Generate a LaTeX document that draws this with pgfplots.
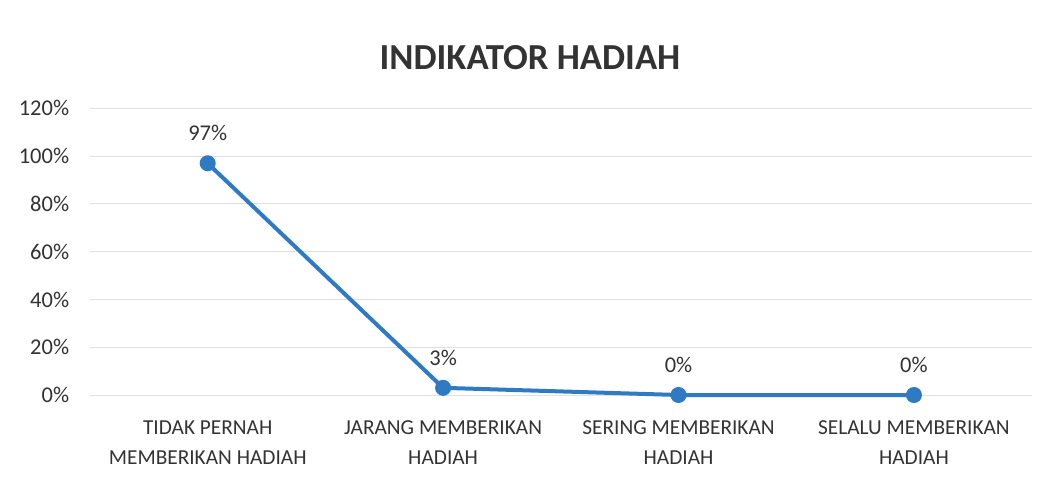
\documentclass[border=0pt]{standalone}
\usepackage{fontspec}
\setmainfont{Carlito}
\usepackage{pgfplots}
\pgfplotsset{compat=1.18}
\definecolor{linecol}{HTML}{2E7BC4}
\definecolor{txt}{HTML}{333333}
\definecolor{gridc}{HTML}{E0E0E0}
\begin{document}
\begin{tikzpicture}
\path (0,0) rectangle (630pt,289.8pt);
\begin{axis}[
  at={(54pt,52.8pt)}, anchor=south west,
  scale only axis, width=565pt, height=172pt,
  xmin=-0.5, xmax=3.5, ymin=0, ymax=120,
  axis line style={draw=none},
  ymajorgrids, grid style={gridc, line width=0.6pt},
  ytick={0,20,40,60,80,100,120},
  yticklabels={0\%,20\%,40\%,60\%,80\%,100\%,120\%},
  xtick={0,1,2,3},
  xticklabels={TIDAK PERNAH\\MEMBERIKAN HADIAH, JARANG MEMBERIKAN\\HADIAH, SERING MEMBERIKAN\\HADIAH, SELALU MEMBERIKAN\\HADIAH},
  xticklabel style={align=center, text=txt, font=\fontsize{12.8}{18}\selectfont, yshift=-12pt},
  yticklabel style={text=txt, font=\fontsize{13.5}{15}\selectfont, xshift=-9pt},
  major tick length=0pt,
  clip=false,
  nodes near coords={\pgfmathprintnumber[assume math mode=true]{\pgfplotspointmeta}\%},
  every node near coord/.append style={text=txt, font=\fontsize{13.5}{15}\selectfont, yshift=9pt},
]
\addplot[linecol, line width=2.4pt, mark=*, mark size=3.6pt, mark options={fill=linecol, draw=linecol}]
  coordinates {(0,97) (1,3) (2,0) (3,0)};
\end{axis}
\node[text=txt, font=\fontsize{22}{26}\selectfont\bfseries] at (318pt,255pt) {INDIKATOR HADIAH};
\end{tikzpicture}
\end{document}
